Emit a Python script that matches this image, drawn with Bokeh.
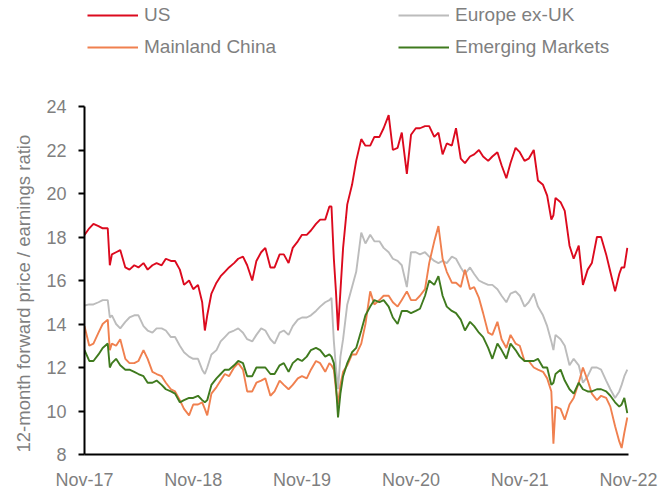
import pandas as pd
from bokeh.plotting import figure
from bokeh.models import Legend, LegendItem, FixedTicker, DatetimeTickFormatter, Range1d, Title
from bokeh.embed import file_html
from bokeh.resources import INLINE

dates = [
    "2017-11-15", "2017-12-01", "2017-12-15", "2018-01-01", "2018-01-15", "2018-02-01", "2018-02-08",
    "2018-02-15", "2018-03-01", "2018-03-15", "2018-04-01", "2018-04-15", "2018-05-01", "2018-05-15",
    "2018-06-01", "2018-06-15", "2018-07-01", "2018-07-15", "2018-08-01", "2018-08-15", "2018-09-01",
    "2018-09-15", "2018-10-01", "2018-10-15", "2018-11-01", "2018-11-15", "2018-12-01", "2018-12-15",
    "2018-12-24", "2019-01-01", "2019-01-15", "2019-02-01", "2019-02-15", "2019-03-01", "2019-03-15",
    "2019-04-01", "2019-04-15", "2019-05-01", "2019-05-15", "2019-06-01", "2019-06-15", "2019-07-01",
    "2019-07-15", "2019-08-01", "2019-08-15", "2019-09-01", "2019-09-15", "2019-10-01", "2019-10-15",
    "2019-11-01", "2019-11-15", "2019-12-01", "2019-12-15", "2020-01-01", "2020-01-15", "2020-02-01",
    "2020-02-15", "2020-02-22", "2020-03-01", "2020-03-08", "2020-03-15", "2020-03-23", "2020-04-01",
    "2020-04-15", "2020-05-01", "2020-05-15", "2020-06-01", "2020-06-15", "2020-07-01", "2020-07-15",
    "2020-08-01", "2020-08-15", "2020-09-01", "2020-09-15", "2020-10-01", "2020-10-15", "2020-11-01",
    "2020-11-15", "2020-12-01", "2020-12-15", "2021-01-01", "2021-01-15", "2021-02-01", "2021-02-15",
    "2021-03-01", "2021-03-15", "2021-04-01", "2021-04-15", "2021-05-01", "2021-05-15", "2021-06-01",
    "2021-06-15", "2021-07-01", "2021-07-15", "2021-08-01", "2021-08-15", "2021-09-01", "2021-09-15",
    "2021-10-01", "2021-10-15", "2021-11-01", "2021-11-15", "2021-12-01", "2021-12-15", "2022-01-01",
    "2022-01-15", "2022-02-01", "2022-02-15", "2022-03-01", "2022-03-08", "2022-03-15", "2022-04-01",
    "2022-04-15", "2022-05-01", "2022-05-15", "2022-06-01", "2022-06-15", "2022-07-01", "2022-07-15",
    "2022-08-01", "2022-08-15", "2022-09-01", "2022-09-15", "2022-10-01", "2022-10-15", "2022-10-23",
    "2022-11-01", "2022-11-11",
]

us = [
    18.1, 18.4, 18.6, 18.5, 18.4, 18.4, 16.7, 17.2, 17.3, 17.4, 16.6, 16.5, 16.7, 16.6,
    16.8, 16.5, 16.7, 16.8, 16.7, 17.0, 16.9, 16.9, 16.5, 15.8, 16.0, 15.6, 15.8, 15.0,
    13.7, 14.4, 15.4, 15.9, 16.2, 16.4, 16.6, 16.8, 17.0, 17.1, 16.7, 16.0, 16.9, 17.3,
    17.5, 16.6, 16.6, 17.2, 17.2, 16.8, 17.5, 17.8, 18.1, 18.1, 18.3, 18.6, 18.8, 18.8,
    19.4, 19.4, 17.0, 15.5, 13.7, 15.5, 17.5, 19.5, 20.4, 21.5, 22.5, 22.2, 22.2, 22.6,
    22.6, 23.0, 23.6, 22.0, 22.1, 22.8, 20.9, 22.7, 23.0, 23.0, 23.1, 23.1, 22.6, 22.8,
    21.8, 22.3, 22.2, 23.0, 21.6, 21.4, 21.7, 21.8, 22.0, 21.7, 21.5, 21.7, 21.9, 21.3,
    20.7, 21.4, 22.1, 21.9, 21.5, 21.6, 22.0, 20.6, 20.4, 19.9, 18.8, 19.0, 19.8, 19.6,
    19.2, 17.6, 17.0, 17.6, 15.8, 16.5, 16.8, 18.0, 18.0, 17.2, 16.4, 15.5, 16.3, 16.6,
    16.6, 17.5,
]

europe_ex_uk = [
    14.85, 14.9, 14.9, 15.0, 15.1, 15.1, 14.3, 14.4, 14.0, 13.8, 14.1, 14.3, 14.4, 14.4,
    13.9, 13.7, 13.6, 13.8, 13.8, 13.7, 13.4, 13.4, 13.0, 12.7, 12.5, 12.4, 12.4, 11.9,
    11.7, 12.0, 12.6, 12.8, 13.2, 13.4, 13.6, 13.7, 13.8, 13.6, 13.3, 13.2, 13.5, 13.8,
    13.7, 13.3, 13.1, 13.6, 13.7, 13.5, 13.9, 14.2, 14.3, 14.3, 14.4, 14.6, 14.8, 15.0,
    15.1, 15.2, 13.2, 12.0, 11.0, 12.5, 13.3, 14.9, 15.7, 16.4, 18.2, 17.7, 18.1, 17.8,
    17.8, 17.5, 17.3, 17.0, 16.9, 16.7, 15.7, 17.3, 17.3, 17.2, 17.3, 17.1, 16.9, 16.8,
    16.9, 16.8, 17.1, 17.0, 16.6, 16.3, 16.6, 16.3, 16.0, 15.9, 15.8, 15.8, 15.6, 15.3,
    15.0, 15.4, 15.5, 15.3, 14.8, 15.0, 15.4, 14.8, 14.4, 13.9, 13.2, 12.8, 13.5, 13.3,
    13.0, 12.1, 12.4, 12.1, 11.3, 11.6, 12.0, 12.0, 11.9, 11.4, 11.0, 10.6, 10.9, 11.2,
    11.6, 11.9,
]

mainland_china = [
    13.9, 13.0, 13.1, 13.6, 14.0, 14.2, 12.8, 13.1, 13.0, 13.3, 12.4, 12.2, 12.2, 12.3,
    12.8, 12.4, 11.8, 11.7, 11.6, 11.3, 11.0, 10.9, 10.5, 10.1, 9.8, 10.3, 10.3, 10.4,
    10.1, 9.8, 10.8, 11.1, 11.4, 11.7, 11.6, 12.0, 12.2, 11.9, 10.9, 10.9, 11.3, 11.4,
    11.5, 10.7, 10.9, 11.4, 11.2, 11.0, 11.2, 11.5, 11.6, 11.5, 11.9, 12.3, 12.2, 11.8,
    12.2, 12.1, 11.9, 11.0, 10.3, 11.2, 11.8, 12.1, 12.6, 12.6, 13.1, 14.0, 15.5, 14.9,
    15.1, 15.3, 15.3, 15.0, 14.8, 15.1, 15.5, 15.1, 15.1, 15.3, 15.6, 16.8, 17.8, 18.5,
    17.0, 16.4, 15.9, 15.9, 15.7, 16.5, 15.6, 15.7, 15.2, 14.5, 13.6, 13.5, 14.1, 13.3,
    12.9, 13.5, 13.1, 13.0, 12.3, 12.3, 12.0, 11.9, 11.8, 11.5, 10.9, 8.5, 10.2, 10.1,
    9.6, 10.3, 10.6, 11.3, 12.0, 11.4, 10.8, 10.5, 10.7, 10.6, 10.2, 9.3, 8.6, 8.3,
    9.0, 9.7,
]

emerging_markets = [
    12.8, 12.3, 12.3, 12.6, 12.9, 13.1, 12.0, 12.2, 12.4, 12.1, 11.9, 11.9, 11.8, 11.7,
    11.6, 11.3, 11.3, 11.4, 11.2, 11.0, 10.9, 10.8, 10.4, 10.5, 10.6, 10.6, 10.7, 10.5,
    10.4, 10.5, 11.2, 11.5, 11.7, 11.9, 11.9, 12.1, 12.3, 12.2, 11.6, 11.6, 12.0, 12.0,
    12.0, 11.7, 11.7, 12.1, 12.2, 11.8, 12.2, 12.4, 12.3, 12.5, 12.8, 12.9, 12.8, 12.5,
    12.6, 12.5, 12.2, 11.2, 9.7, 10.8, 11.6, 12.2, 12.7, 12.9, 13.7, 14.4, 14.8, 15.1,
    15.0, 15.1, 14.8, 14.3, 14.0, 14.6, 14.6, 14.5, 14.6, 14.7, 15.3, 16.0, 15.8, 16.2,
    15.3, 14.8, 14.6, 14.5, 14.2, 13.7, 14.1, 13.9, 13.6, 13.4, 12.9, 12.4, 13.1, 12.8,
    12.4, 13.1, 12.8, 12.5, 12.3, 12.3, 12.3, 12.4, 12.0, 12.0, 11.2, 11.3, 11.7, 11.9,
    11.4, 11.0, 10.8, 11.3, 11.0, 10.9, 10.9, 11.0, 11.0, 10.9, 10.7, 10.4, 10.2, 10.3,
    10.6, 9.9,
]

series_names = ["US", "Europe ex-UK", "Mainland China", "Emerging Markets"]
series_colors = ["#dc0a1e", "#bcbcbc", "#f0804f", "#3f7a1e"]
x_tick_dates = ["2017-11-15", "2018-11-15", "2019-11-15", "2020-11-15", "2021-11-15", "2022-11-15"]
y_ticks = [8, 10, 12, 14, 16, 18, 20, 22, 24]
y_min, y_max = 8, 24
y_title = "12-month forward price / earnings ratio"

FONT = "Liberation Sans"
GREY = "#7f7f7f"

W, H = 660, 493
LEFT, RIGHT, BOTTOM = 83, 628, 454     # plot frame edges in page pixels
TOP_VALUE_PX = 106                     # pixel row of the top y tick
# frame reaches to the top of the canvas so the legend can sit above the axis
px_per_unit = (BOTTOM - TOP_VALUE_PX) / (y_max - y_min)
y_top = y_max + TOP_VALUE_PX / px_per_unit

x = pd.to_datetime(dates)
xt = pd.to_datetime(x_tick_dates)

p = figure(
    width=W, height=H, x_axis_type="datetime",
    output_backend="svg", toolbar_location=None,
    x_range=Range1d(xt[0], xt[-1]), y_range=Range1d(y_min, y_top),
    min_border_left=LEFT, min_border_right=W - RIGHT, min_border_top=0,
    min_border_bottom=H - BOTTOM,
)
p.outline_line_color = None
p.xgrid.grid_line_color = None
p.ygrid.grid_line_color = None

renderers = []
for vals, col in zip([us, europe_ex_uk, mainland_china, emerging_markets], series_colors):
    r = p.line(x, vals, line_color=col, line_width=1.9)
    renderers.append(r)

# axes
p.xaxis.ticker = FixedTicker(ticks=[t.value // 10**6 for t in xt])
p.xaxis.formatter = DatetimeTickFormatter(years="%b-%y", months="%b-%y", days="%b-%y")
p.yaxis.ticker = FixedTicker(ticks=y_ticks)
p.yaxis.bounds = (y_min, y_max)
for ax in (p.xaxis, p.yaxis):
    ax.axis_line_color = "black"
    ax.axis_line_width = 2
    ax.major_tick_line_color = "black"
    ax.major_tick_line_width = 2
    ax.minor_tick_line_color = None
    ax.major_label_text_font = FONT
    ax.major_label_text_font_size = "18px"
    ax.major_label_text_color = GREY
p.xaxis.major_tick_out = 0
p.xaxis.major_tick_in = 0
p.xaxis.major_label_standoff = 15
p.yaxis.major_tick_out = 6
p.yaxis.major_tick_in = 0
p.yaxis.major_label_standoff = 12

# y title anchored at the bottom of the frame (the axis itself is bounded to 8..24)
ytitle = Title(text=y_title, align="left", offset=2, standoff=20,
               text_font=FONT, text_font_size="18.5px", text_font_style="normal",
               text_color=GREY)
p.add_layout(ytitle, "left")

def make_legend(items, loc):
    return Legend(items=items, location=loc, orientation="vertical",
                  glyph_width=51, glyph_height=20, label_standoff=6, spacing=10,
                  padding=0, margin=0, border_line_color=None, background_fill_alpha=0,
                  label_text_font=FONT, label_text_font_size="19px", label_text_color=GREY)

leg1 = make_legend([LegendItem(label=series_names[0], renderers=[renderers[0]]),
                    LegendItem(label=series_names[2], renderers=[renderers[2]])], (3, 396))
leg2 = make_legend([LegendItem(label=series_names[1], renderers=[renderers[1]]),
                    LegendItem(label=series_names[3], renderers=[renderers[3]])], (314, 396))
p.add_layout(leg1, "center")
p.add_layout(leg2, "center")

open("out.html", "w").write(file_html(p, INLINE))
